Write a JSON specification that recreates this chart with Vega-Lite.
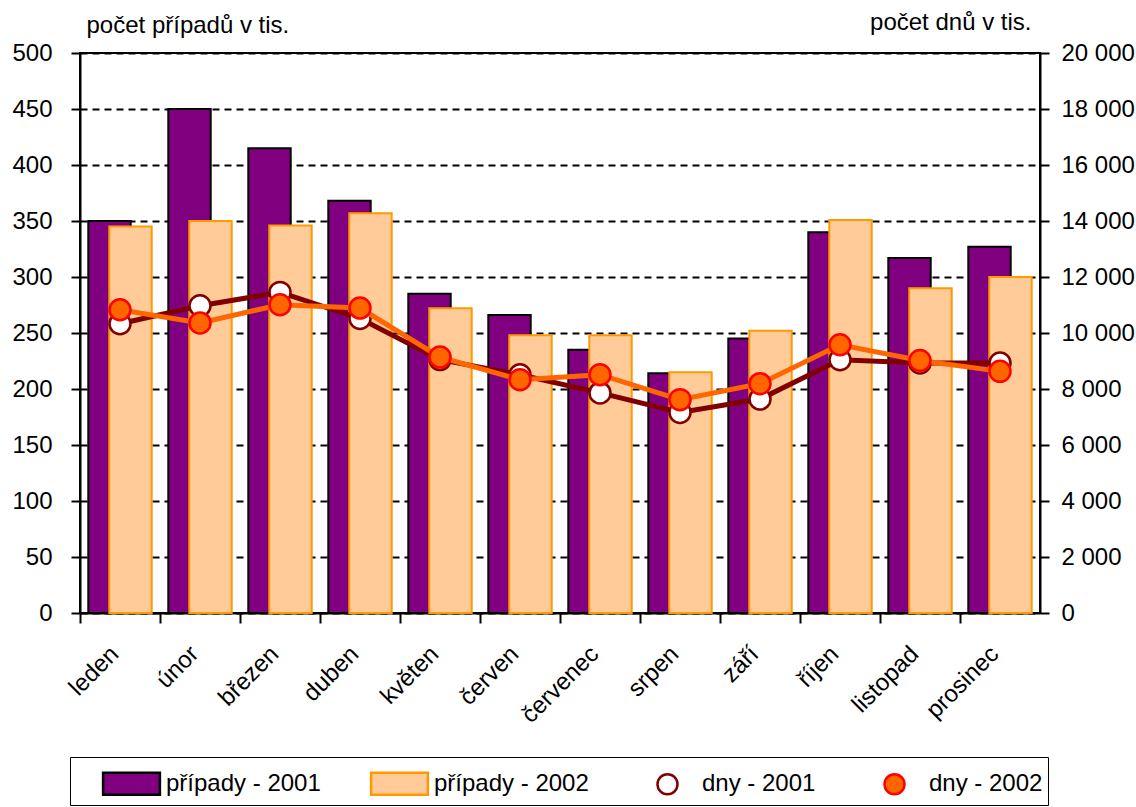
{
  "$schema": "https://vega.github.io/schema/vega-lite/v6.json",
  "width": 960,
  "height": 560,
  "autosize": {"type": "none"},
  "padding": {"left": 80, "top": 53, "right": 96, "bottom": 194},
  "background": "white",
  "config": {
    "font": "Liberation Sans",
    "view": {"stroke": "black", "strokeWidth": 2},
    "axis": {
      "domainColor": "black", "domainWidth": 2, "tickColor": "black", "tickWidth": 2,
      "labelColor": "black", "labelFont": "Liberation Sans", "labelFontSize": 24,
      "titleFont": "Liberation Sans", "titleFontSize": 24, "titleFontWeight": "normal", "titleColor": "black"
    },
    "legend": {"labelFont": "Liberation Sans", "labelFontSize": 24, "labelColor": "black"}
  },
  "data": {"values": [
    {"mesic": "leden", "rada": "případy - 2001", "hodnota": 350},
    {"mesic": "únor", "rada": "případy - 2001", "hodnota": 450},
    {"mesic": "březen", "rada": "případy - 2001", "hodnota": 415},
    {"mesic": "duben", "rada": "případy - 2001", "hodnota": 368},
    {"mesic": "květen", "rada": "případy - 2001", "hodnota": 285},
    {"mesic": "červen", "rada": "případy - 2001", "hodnota": 266},
    {"mesic": "červenec", "rada": "případy - 2001", "hodnota": 235},
    {"mesic": "srpen", "rada": "případy - 2001", "hodnota": 214},
    {"mesic": "září", "rada": "případy - 2001", "hodnota": 245},
    {"mesic": "říjen", "rada": "případy - 2001", "hodnota": 340},
    {"mesic": "listopad", "rada": "případy - 2001", "hodnota": 317},
    {"mesic": "prosinec", "rada": "případy - 2001", "hodnota": 327},
    {"mesic": "leden", "rada": "případy - 2002", "hodnota": 345},
    {"mesic": "únor", "rada": "případy - 2002", "hodnota": 350},
    {"mesic": "březen", "rada": "případy - 2002", "hodnota": 346},
    {"mesic": "duben", "rada": "případy - 2002", "hodnota": 357},
    {"mesic": "květen", "rada": "případy - 2002", "hodnota": 272},
    {"mesic": "červen", "rada": "případy - 2002", "hodnota": 248},
    {"mesic": "červenec", "rada": "případy - 2002", "hodnota": 248},
    {"mesic": "srpen", "rada": "případy - 2002", "hodnota": 215},
    {"mesic": "září", "rada": "případy - 2002", "hodnota": 252},
    {"mesic": "říjen", "rada": "případy - 2002", "hodnota": 351},
    {"mesic": "listopad", "rada": "případy - 2002", "hodnota": 290},
    {"mesic": "prosinec", "rada": "případy - 2002", "hodnota": 300},
    {"mesic": "leden", "rada": "dny - 2001", "hodnota": 10330},
    {"mesic": "únor", "rada": "dny - 2001", "hodnota": 10975},
    {"mesic": "březen", "rada": "dny - 2001", "hodnota": 11450},
    {"mesic": "duben", "rada": "dny - 2001", "hodnota": 10520},
    {"mesic": "květen", "rada": "dny - 2001", "hodnota": 9050},
    {"mesic": "červen", "rada": "dny - 2001", "hodnota": 8510},
    {"mesic": "červenec", "rada": "dny - 2001", "hodnota": 7860},
    {"mesic": "srpen", "rada": "dny - 2001", "hodnota": 7165},
    {"mesic": "září", "rada": "dny - 2001", "hodnota": 7640},
    {"mesic": "říjen", "rada": "dny - 2001", "hodnota": 9045},
    {"mesic": "listopad", "rada": "dny - 2001", "hodnota": 8930},
    {"mesic": "prosinec", "rada": "dny - 2001", "hodnota": 8930},
    {"mesic": "leden", "rada": "dny - 2002", "hodnota": 10830},
    {"mesic": "únor", "rada": "dny - 2002", "hodnota": 10360},
    {"mesic": "březen", "rada": "dny - 2002", "hodnota": 11010},
    {"mesic": "duben", "rada": "dny - 2002", "hodnota": 10890},
    {"mesic": "květen", "rada": "dny - 2002", "hodnota": 9140},
    {"mesic": "červen", "rada": "dny - 2002", "hodnota": 8330},
    {"mesic": "červenec", "rada": "dny - 2002", "hodnota": 8510},
    {"mesic": "srpen", "rada": "dny - 2002", "hodnota": 7620},
    {"mesic": "září", "rada": "dny - 2002", "hodnota": 8190},
    {"mesic": "říjen", "rada": "dny - 2002", "hodnota": 9580},
    {"mesic": "listopad", "rada": "dny - 2002", "hodnota": 9020},
    {"mesic": "prosinec", "rada": "dny - 2002", "hodnota": 8630}
  ]},
  "encoding": {
    "x": {
      "field": "mesic", "type": "nominal", "sort": null,
      "scale": {"paddingInner": 0, "paddingOuter": 0},
      "axis": {"title": null, "labelAngle": -45, "bandPosition": 0, "labelOffset": -5, "tickSize": 10, "labelPadding": 27, "labelAlign": "right", "labelBaseline": "middle"}
    }
  },
  "layer": [
    {
      "layer": [
        {
          "transform": [{"filter": "datum.rada == 'případy - 2001'"}],
          "mark": {"type": "bar", "width": {"band": 0.53}, "xOffset": -10.5, "strokeWidth": 2, "opacity": 1},
          "encoding": {
            "y": {"field": "hodnota", "type": "quantitative", "scale": {"domain": [0, 500], "nice": false},
              "axis": {"values": [0,50,100,150,200,250,300,350,400,450,500], "grid": true, "gridColor": "black", "gridWidth": 2, "gridDash": [7, 5], "tickSize": 9, "labelPadding": 19, "title": "počet případů v tis.", "titleAngle": 0, "titleAlign": "left", "titleBaseline": "middle", "titleX": 6, "titleY": -28}},
            "fill": {"field": "rada", "type": "nominal", "sort": null,
              "scale": {"domain": ["případy - 2001", "případy - 2002", "dny - 2001", "dny - 2002"], "range": ["#800080", "#FFCC99", "#FFFFFF", "#FF6600"]},
              "legend": {
                "title": null, "orient": "none", "direction": "horizontal", "columns": 4,
                "legendX": -10, "legendY": 704, "padding": 5, "strokeColor": "black",
                "symbolSize": 1600, "symbolOffset": 35, "labelOffset": 13, "columnPadding": 22,
                "symbolStrokeWidth": 2.5, "symbolOpacity": 1, "symbolFillColor": "white"
              }
            },
            "stroke": {"field": "rada", "type": "nominal", "sort": null,
              "scale": {"domain": ["případy - 2001", "případy - 2002", "dny - 2001", "dny - 2002"], "range": ["#000000", "#FF9900", "#800000", "#FF0000"]}
            }
          }
        },
        {
          "transform": [{"filter": "datum.rada == 'případy - 2002'"}],
          "mark": {"type": "bar", "width": {"band": 0.53}, "xOffset": 10.5, "strokeWidth": 2, "opacity": 1},
          "encoding": {
            "y": {"field": "hodnota", "type": "quantitative"},
            "fill": {"field": "rada", "type": "nominal", "sort": null},
            "stroke": {"field": "rada", "type": "nominal", "sort": null}
          }
        }
      ]
    },
    {
      "layer": [
        {
          "transform": [{"filter": "datum.rada == 'dny - 2001'"}],
          "mark": {"type": "line", "color": "#800000", "strokeWidth": 5},
          "encoding": {"y": {"field": "hodnota", "type": "quantitative"}}
        },
        {
          "transform": [{"filter": "datum.rada == 'dny - 2001'"}],
          "mark": {"type": "point", "filled": true, "stroke": "#800000", "strokeWidth": 2.5, "size": 1764, "opacity": 1},
          "encoding": {
            "y": {"field": "hodnota", "type": "quantitative"},
            "fill": {"field": "rada", "type": "nominal", "sort": null},
            "shape": {"field": "rada", "type": "nominal", "sort": null,
              "scale": {"domain": ["případy - 2001", "případy - 2002", "dny - 2001", "dny - 2002"], "range": ["M-1.42,-0.55H1.42V0.55H-1.42Z", "M-1.42,-0.55H1.42V0.55H-1.42Z", "M-0.5,0A0.5,0.5 0 1 1 0.5,0A0.5,0.5 0 1 1 -0.5,0Z", "M-0.5,0A0.5,0.5 0 1 1 0.5,0A0.5,0.5 0 1 1 -0.5,0Z"]}
            }
          }
        },
        {
          "transform": [{"filter": "datum.rada == 'dny - 2002'"}],
          "mark": {"type": "line", "color": "#FF6600", "strokeWidth": 5},
          "encoding": {"y": {"field": "hodnota", "type": "quantitative"}}
        },
        {
          "transform": [{"filter": "datum.rada == 'dny - 2002'"}],
          "mark": {"type": "point", "filled": true, "stroke": "#FF0000", "strokeWidth": 2.5, "size": 1764, "opacity": 1},
          "encoding": {
            "y": {"field": "hodnota", "type": "quantitative"},
            "fill": {"field": "rada", "type": "nominal", "sort": null},
            "shape": {"field": "rada", "type": "nominal", "sort": null}
          }
        }
      ],
      "encoding": {
        "y": {"field": "hodnota", "type": "quantitative", "scale": {"domain": [0, 20000], "nice": false},
          "axis": {"orient": "right", "values": [0,2000,4000,6000,8000,10000,12000,14000,16000,18000,20000], "grid": false, "tickSize": 9, "labelPadding": 12,
            "labelExpr": "replace(format(datum.value, ','), ',', ' ')",
            "title": "počet dnů v tis.", "titleAngle": 0, "titleAlign": "right", "titleBaseline": "middle", "titleX": -9, "titleY": -31}}
      }
    }
  ],
  "resolve": {"scale": {"y": "independent"}}
}
